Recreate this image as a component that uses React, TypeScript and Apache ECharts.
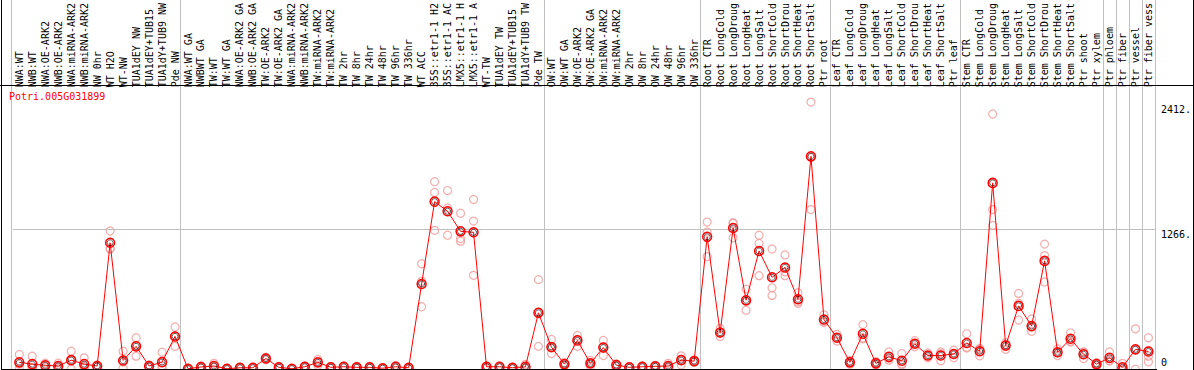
import React, { useEffect, useRef } from 'react';
import * as echarts from 'echarts';

const geneName = 'Potri.005G031899';

const categories = [
  'NWA:WT', 'NWB:WT', 'NWA:OE-ARK2', 'NWB:OE-ARK2', 'NWA:miRNA-ARK2', 'NWB:miRNA-ARK2', 'NW 0hr', 'WT H2O', 'WT-NW',
  'TUA1dEY NW', 'TUA1dEY+TUB15', 'TUA1dY+TUB9 NW', 'Pde NW',
  'NWA:WT GA', 'NWBWT GA', 'TW:WT', 'TW:WT GA', 'NWA:OE-ARK2 GA', 'NWB:OE-ARK2 GA', 'TW:OE-ARK2', 'TW:OE-ARK2 GA',
  'NWA:miRNA-ARK2', 'NWB:miRNA-ARK2', 'TW:miRNA-ARK2', 'TW:miRNA-ARK2', 'TW 2hr', 'TW 8hr', 'TW 24hr', 'TW 48hr',
  'TW 96hr', 'TW 336hr', 'WT ACC', '35S::etr1-1 H2', '35S::etr1-1 AC', 'LMX5::etr1-1 H', 'LMX5::etr1-1 A', 'WT-TW',
  'TUA1dEY TW', 'TUA1dEY+TUB15', 'TUA1dY+TUB9 TW', 'Pde TW',
  'OW:WT', 'OW:WT GA', 'OW:OE-ARK2', 'OW:OE-ARK2 GA', 'OW:miRNA-ARK2', 'OW:miRNA-ARK2', 'OW 2hr', 'OW 8hr', 'OW 24hr',
  'OW 48hr', 'OW 96hr', 'OW 336hr',
  'Root CTR', 'Root LongCold', 'Root LongDroug', 'Root LongHeat', 'Root LongSalt', 'Root ShortCold', 'Root ShortDrou',
  'Root ShortHeat', 'Root ShortSalt', 'Ptr root',
  'Leaf CTR', 'Leaf LongCold', 'Leaf LongDroug', 'Leaf LongHeat', 'Leaf LongSalt', 'Leaf ShortCold', 'Leaf ShortDrou',
  'Leaf ShortHeat', 'Leaf ShortSalt', 'Ptr leaf',
  'Stem CTR', 'Stem LongCold', 'Stem LongDroug', 'Stem LongHeat', 'Stem LongSalt', 'Stem ShortCold', 'Stem ShortDrou',
  'Stem ShortHeat', 'Stem ShortSalt', 'Ptr shoot', 'Ptr xylem', 'Ptr phloem', 'Ptr fiber', 'Ptr vessel', 'Ptr fiber vess',
];

const means = [
  63, 47, 36, 30, 83, 47, 30, 1147, 80, 208, 30, 65, 298,
  5, 21, 30, 5, 14, 14, 98, 18, 5, 23, 63, 18, 23, 18, 18, 10, 23, 14, 774, 1520, 1433, 1251, 1242, 23, 23, 14, 23, 512,
  202, 47, 262, 54, 197, 38, 18, 23, 27, 30, 83, 74,
  1201, 333, 1281, 626, 1073, 834, 923, 635, 1931, 452,
  286, 63, 322, 54, 113, 77, 232, 125, 125, 139,
  238, 164, 1690, 215, 575, 393, 983, 155, 277, 137, 47, 104, 18, 181, 161,
];

const replicates = [
  [134, 46, 9], [119, 12, 10], [56, 34, 18], [56, 24, 10], [164, 83, 2], [104, 27, 10], [40, 30, 20],
  [1254, 1096, 1090], [164, 66, 10], [286, 119, 220], [40, 30, 20], [155, 30, 10], [384, 208, 302],
  [10, 3, 2], [30, 20, 13], [54, 20, 16], [8, 4, 3], [20, 14, 8], [20, 12, 10], [110, 98, 86], [25, 18, 11],
  [8, 4, 3], [30, 23, 16], [89, 63, 37], [25, 18, 11], [30, 23, 16], [25, 18, 11], [25, 18, 11], [14, 10, 6],
  [35, 23, 11], [20, 14, 8], [957, 798, 567], [1701, 1603, 1260], [1621, 1463, 1216], [1415, 1185, 1162],
  [1540, 1344, 852], [30, 23, 16], [30, 23, 16], [20, 14, 8], [45, 14, 10], [813, 208, 515],
  [271, 192, 143], [60, 47, 34], [307, 271, 208], [80, 54, 28], [262, 204, 125], [48, 38, 28], [25, 18, 11],
  [30, 23, 16], [35, 27, 19], [54, 24, 12], [122, 89, 38], [84, 74, 64],
  [1335, 1245, 1022], [298, 370, 331], [1329, 1192, 1322], [727, 615, 536], [1216, 1141, 849], [1091, 739, 670],
  [1037, 849, 883], [694, 599, 612], [2423, 1448, 1922], [494, 436, 426],
  [317, 286, 256], [80, 63, 46], [405, 284, 277], [70, 54, 38], [157, 99, 83], [143, 50, 38], [260, 232, 204],
  [148, 123, 104], [157, 141, 77], [173, 139, 105],
  [322, 199, 193], [188, 182, 122], [2315, 1448, 1305], [241, 223, 181], [688, 599, 447], [456, 378, 345],
  [1135, 1031, 792], [185, 155, 125], [331, 253, 247], [157, 156, 98], [60, 47, 34], [157, 78, 77], [54, 0, 0],
  [367, 176, 0], [286, 171, 119, 68],
];

// index of the last category of each block (a separator line follows it)
const groupEnds = [-1, 12, 40, 52, 62, 72, 83, 84, 85, 86, 87];

const yMin = 0;
const yMid = 1266;
const yMax = 2412;

export default function App() {
  const ref = useRef<HTMLDivElement>(null);

  useEffect(() => {
    if (!ref.current) return;
    const chart = echarts.init(ref.current, null, { renderer: 'svg' });
    const font = 'DejaVu Sans Mono';
    const repData: number[][] = [];
    replicates.forEach((arr, i) => arr.forEach((v) => repData.push([i, v])));

    const gridL = 12.8;
    const gridR = 1194 - 1156.8;

    const option: any = {
      animation: false,
      backgroundColor: '#ffffff',
      title: {
        text: geneName,
        left: 9,
        top: 91,
        padding: 0,
        textStyle: { fontFamily: font, fontSize: 10, fontWeight: 'normal', color: '#ff0000' },
      },
      grid: [
        { left: gridL, right: gridR, top: 99.5, bottom: 0.7 },
        { left: gridL, right: gridR, top: 0, bottom: 0 },
      ],
      xAxis: [
        {
          type: 'category',
          gridIndex: 0,
          position: 'top',
          data: categories,
          boundaryGap: true,
          axisLine: { show: false },
          axisTick: { show: false },
          splitLine: { show: false },
          axisLabel: {
            interval: 0,
            rotate: 90,
            margin: 16,
            fontFamily: font,
            fontSize: 10,
            color: '#000000',
          },
        },
        { type: 'value', gridIndex: 1, min: -0.5, max: categories.length - 0.5, show: false },
      ],
      yAxis: [
        {
          type: 'value',
          gridIndex: 0,
          position: 'right',
          min: yMin,
          max: yMax,
          interval: yMid,
          axisLine: { show: false },
          axisTick: { show: false },
          splitLine: {
            show: true,
            showMinLine: false,
            showMaxLine: false,
            lineStyle: { color: '#c0c0c0', width: 1 },
          },
          axisLabel: {
            margin: 6,
            align: 'left',
            verticalAlign: 'top',
            lineHeight: 9,
            fontFamily: font,
            fontSize: 10,
            color: '#000000',
            formatter: (v: number) => (v === yMin ? '' : v === yMax ? '{t|' + v + '.}' : v + '.'),
            rich: { t: { fontFamily: font, fontSize: 10, lineHeight: 9, color: '#000000', padding: [3, 0, 0, 0] } },
          },
        },
        {
          type: 'value',
          gridIndex: 0,
          position: 'right',
          min: yMin,
          max: yMax,
          interval: yMax,
          axisLine: { show: false },
          axisTick: { show: false },
          splitLine: { show: false },
          axisLabel: {
            margin: 6,
            align: 'left',
            verticalAlign: 'bottom',
            lineHeight: 14,
            fontFamily: font,
            fontSize: 10,
            color: '#000000',
            formatter: (v: number) => (v === yMin ? String(v) : ''),
          },
        },
        { type: 'value', gridIndex: 1, min: 0, max: 1, show: false },
      ],
      graphic: [
        { type: 'line', shape: { x1: 0, y1: 85.5, x2: 1194, y2: 85.5 }, style: { stroke: '#000', lineWidth: 1 }, z: 10 },
        { type: 'line', shape: { x1: 1.5, y1: 0, x2: 1.5, y2: 370 }, style: { stroke: '#000', lineWidth: 1 }, z: 10 },
        { type: 'line', shape: { x1: 1193.5, y1: 0, x2: 1193.5, y2: 370 }, style: { stroke: '#000', lineWidth: 1 }, z: 10 },
        { type: 'line', shape: { x1: 1, y1: 369.5, x2: 1157, y2: 369.5 }, style: { stroke: '#000', lineWidth: 1 }, z: 10 },
      ],
      series: [
        {
          type: 'custom',
          xAxisIndex: 1,
          yAxisIndex: 2,
          silent: true,
          z: 0,
          data: groupEnds.map((g) => [g + 0.385]),
          encode: { x: 0 },
          renderItem: (params: any, api: any) => {
            const x = Math.round(api.coord([api.value(0), 0])[0]) + 0.5;
            const cs = params.coordSys;
            return {
              type: 'line',
              shape: { x1: x, y1: cs.y, x2: x, y2: cs.y + cs.height },
              style: { stroke: '#c0c0c0', lineWidth: 1 },
            };
          },
        },
        {
          type: 'scatter',
          xAxisIndex: 0,
          yAxisIndex: 0,
          data: repData,
          symbol: 'circle',
          symbolSize: 8,
          clip: false,
          z: 2,
          itemStyle: { color: 'rgba(0,0,0,0)', borderColor: '#f09898', borderWidth: 1.2 },
        },
        {
          type: 'line',
          xAxisIndex: 0,
          yAxisIndex: 0,
          data: means,
          symbol: 'circle',
          symbolSize: 9,
          showAllSymbol: true,
          z: 3,
          lineStyle: { color: '#ff0000', width: 1 },
          itemStyle: { color: 'rgba(0,0,0,0)', borderColor: '#ff0000', borderWidth: 1.5 },
        },
        {
          type: 'scatter',
          xAxisIndex: 0,
          yAxisIndex: 0,
          data: means.map((v, i) => [i, v]),
          symbol: 'circle',
          symbolSize: 6,
          z: 4,
          itemStyle: { color: 'rgba(0,0,0,0)', borderColor: '#000000', borderWidth: 0.8 },
        },
      ],
    };

    chart.setOption(option);
    return () => chart.dispose();
  }, []);

  return (
    <div
      ref={ref}
      style={{ position: 'fixed', left: 0, top: 0, width: 1194, height: 370 }}
    />
  );
}
